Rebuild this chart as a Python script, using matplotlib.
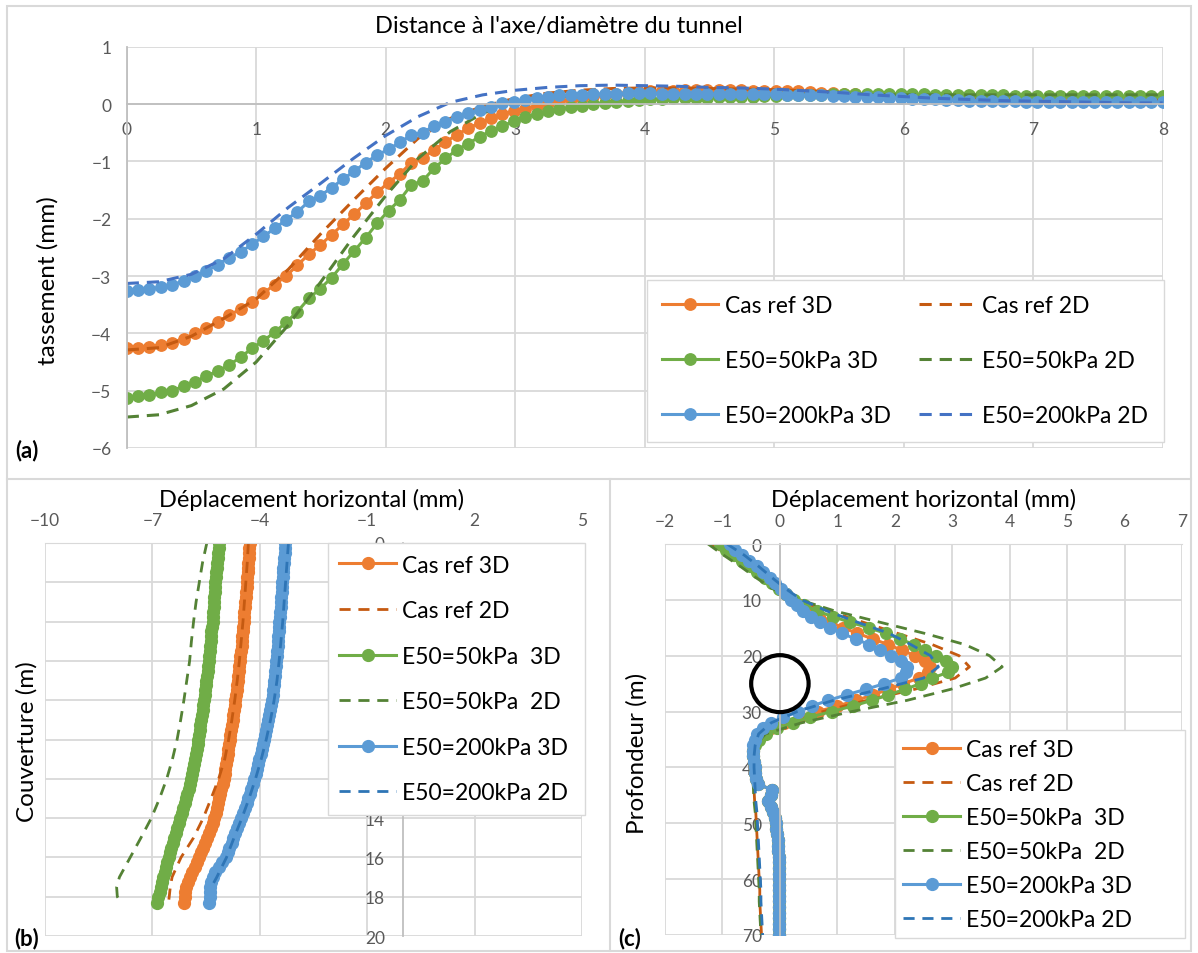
import numpy as np
import matplotlib
matplotlib.use("Agg")
import matplotlib.pyplot as plt
from matplotlib.patches import Ellipse, Rectangle
from matplotlib.lines import Line2D

plt.rcParams['font.family'] = ['Lato', 'DejaVu Sans']

W, H = 1198, 954

# ---------------- (a) tassement en surface ----------------
dist_3d = np.linspace(0, 8, 92)
a_ref_3d = [-4.26, -4.25, -4.23, -4.20, -4.16, -4.09, -4.00, -3.91, -3.80, -3.68,
            -3.58, -3.46, -3.30, -3.15, -3.00, -2.81, -2.62, -2.46, -2.28, -2.10,
            -1.92, -1.73, -1.54, -1.37, -1.22, -1.02, -0.94, -0.80, -0.66, -0.54,
            -0.42, -0.33, -0.25, -0.18, -0.12, -0.08, -0.03, 0.01, 0.05, 0.08,
            0.11, 0.14, 0.16, 0.18, 0.20, 0.21, 0.22, 0.23, 0.23, 0.24,
            0.24, 0.24, 0.24, 0.24, 0.24, 0.23, 0.23, 0.23, 0.22, 0.22,
            0.21, 0.20, 0.19, 0.18, 0.17, 0.16, 0.15, 0.14, 0.13, 0.13,
            0.12, 0.12, 0.11, 0.11, 0.10, 0.10, 0.10, 0.09, 0.09, 0.09,
            0.08, 0.08, 0.08, 0.08, 0.08, 0.08, 0.07, 0.07, 0.07, 0.07,
            0.07, 0.07]
a_e50_3d = [-5.12, -5.10, -5.08, -5.03, -5.00, -4.92, -4.85, -4.74, -4.66, -4.55,
            -4.42, -4.26, -4.13, -3.98, -3.81, -3.62, -3.39, -3.22, -3.03, -2.79,
            -2.56, -2.33, -2.08, -1.86, -1.67, -1.41, -1.34, -1.12, -0.95, -0.80,
            -0.69, -0.57, -0.47, -0.38, -0.30, -0.22, -0.18, -0.13, -0.09, -0.06,
            -0.03, 0.00, 0.02, 0.04, 0.06, 0.07, 0.08, 0.09, 0.10, 0.10,
            0.11, 0.11, 0.12, 0.12, 0.13, 0.13, 0.14, 0.14, 0.15, 0.15,
            0.16, 0.16, 0.17, 0.17, 0.17, 0.18, 0.18, 0.18, 0.18, 0.17,
            0.17, 0.16, 0.16, 0.16, 0.15, 0.15, 0.15, 0.15, 0.14, 0.14,
            0.14, 0.14, 0.14, 0.14, 0.14, 0.14, 0.14, 0.14, 0.14, 0.14,
            0.14, 0.14]
a_e200_3d = [-3.26, -3.24, -3.23, -3.19, -3.15, -3.09, -3.00, -2.91, -2.80, -2.68,
             -2.58, -2.45, -2.31, -2.17, -2.02, -1.88, -1.70, -1.60, -1.46, -1.31,
             -1.17, -1.02, -0.89, -0.79, -0.67, -0.54, -0.50, -0.38, -0.31, -0.22,
             -0.16, -0.10, -0.05, 0.01, 0.04, 0.07, 0.10, 0.12, 0.15, 0.16,
             0.16, 0.17, 0.18, 0.18, 0.19, 0.19, 0.19, 0.18, 0.18, 0.18,
             0.18, 0.18, 0.17, 0.17, 0.17, 0.17, 0.17, 0.17, 0.16, 0.16,
             0.15, 0.15, 0.14, 0.14, 0.13, 0.13, 0.12, 0.11, 0.10, 0.09,
             0.08, 0.08, 0.07, 0.07, 0.06, 0.06, 0.05, 0.05, 0.05, 0.04,
             0.04, 0.04, 0.04, 0.04, 0.04, 0.04, 0.03, 0.03, 0.03, 0.03,
             0.03, 0.03]
dist_2d = np.arange(0, 8.001, 0.25)
a_ref_2d = [-4.29, -4.25, -4.05, -3.74, -3.40, -2.88, -2.26, -1.68, -1.12, -0.60,
            -0.25, -0.04, 0.10, 0.19, 0.24, 0.27, 0.28, 0.28, 0.27, 0.26,
            0.25, 0.23, 0.21, 0.18, 0.15, 0.13, 0.11, 0.10, 0.09, 0.08,
            0.08, 0.07, 0.07]
a_e50_2d = [-5.46, -5.42, -5.26, -4.97, -4.50, -3.85, -3.10, -2.32, -1.60, -0.95,
            -0.48, -0.16, 0.05, 0.12, 0.15, 0.17, 0.18, 0.18, 0.18, 0.17,
            0.17, 0.17, 0.17, 0.16, 0.16, 0.16, 0.16, 0.16, 0.16, 0.16,
            0.16, 0.16, 0.16]
a_e200_2d = [-3.13, -3.10, -2.97, -2.70, -2.27, -1.80, -1.38, -0.95, -0.55, -0.22,
             0.03, 0.16, 0.24, 0.29, 0.32, 0.33, 0.32, 0.31, 0.29, 0.28,
             0.26, 0.23, 0.20, 0.16, 0.13, 0.10, 0.08, 0.06, 0.05, 0.04,
             0.03, 0.02, 0.02]

# ---------------- (b) couverture ----------------
depth_b3 = np.append(np.arange(0, 18.01, 0.25), 18.3)
b_ref_3d = [-4.28, -4.29, -4.30, -4.31,
            -4.32, -4.33, -4.34, -4.35,
            -4.36, -4.37, -4.38, -4.39,
            -4.40, -4.42, -4.43, -4.44,
            -4.45, -4.46, -4.47, -4.49,
            -4.50, -4.51, -4.52, -4.54,
            -4.55, -4.57, -4.58, -4.60,
            -4.61, -4.63, -4.64, -4.66,
            -4.68, -4.70, -4.72, -4.74,
            -4.76, -4.78, -4.80, -4.82,
            -4.84, -4.86, -4.88, -4.90,
            -4.92, -4.94, -4.96, -4.98,
            -5.01, -5.04, -5.07, -5.10,
            -5.13, -5.16, -5.20, -5.23,
            -5.27, -5.32, -5.37, -5.42,
            -5.47, -5.52, -5.58, -5.63,
            -5.69, -5.75, -5.82, -5.88,
            -5.95, -6.00, -6.05, -6.08,
            -6.10, -6.12]
b_e50_3d = [-5.14, -5.15, -5.17, -5.18,
            -5.19, -5.20, -5.22, -5.23,
            -5.24, -5.25, -5.26, -5.27,
            -5.28, -5.29, -5.30, -5.31,
            -5.32, -5.33, -5.35, -5.36,
            -5.37, -5.38, -5.40, -5.41,
            -5.43, -5.44, -5.46, -5.47,
            -5.49, -5.50, -5.52, -5.54,
            -5.56, -5.58, -5.60, -5.62,
            -5.64, -5.66, -5.68, -5.70,
            -5.72, -5.74, -5.76, -5.78,
            -5.81, -5.83, -5.86, -5.88,
            -5.91, -5.94, -5.98, -6.02,
            -6.06, -6.10, -6.14, -6.18,
            -6.23, -6.27, -6.31, -6.35,
            -6.39, -6.43, -6.47, -6.51,
            -6.55, -6.59, -6.63, -6.66,
            -6.70, -6.73, -6.77, -6.80,
            -6.84, -6.87]
b_e200_3d = [-3.29, -3.30, -3.31, -3.32,
             -3.33, -3.34, -3.35, -3.36,
             -3.37, -3.38, -3.39, -3.40,
             -3.41, -3.42, -3.43, -3.44,
             -3.45, -3.46, -3.47, -3.48,
             -3.49, -3.50, -3.52, -3.53,
             -3.54, -3.55, -3.57, -3.58,
             -3.60, -3.61, -3.63, -3.64,
             -3.66, -3.68, -3.71, -3.73,
             -3.76, -3.79, -3.82, -3.85,
             -3.88, -3.91, -3.94, -3.97,
             -4.01, -4.04, -4.08, -4.11,
             -4.15, -4.19, -4.24, -4.28,
             -4.33, -4.37, -4.42, -4.47,
             -4.52, -4.57, -4.63, -4.68,
             -4.74, -4.79, -4.85, -4.90,
             -4.95, -5.05, -5.15, -5.24,
             -5.32, -5.37, -5.40, -5.40,
             -5.40, -5.42]
depth_b2 = [0, 1, 2, 3, 4, 5, 6, 7, 8, 9, 10, 11, 12, 13, 14, 15, 16, 17, 17.5, 18, 18.3]
b_ref_2d = [-4.32, -4.35, -4.39, -4.43, -4.47, -4.52, -4.57, -4.63, -4.70, -4.78,
            -4.87, -4.98, -5.15, -5.36, -5.58, -5.85, -6.20, -6.45, -6.50, -6.53, -6.55]
b_e50_2d = [-5.48, -5.60, -5.69, -5.78, -5.85, -5.91, -5.96, -6.04, -6.12, -6.21,
            -6.31, -6.44, -6.60, -6.80, -7.03, -7.32, -7.62, -7.92, -8.00, -7.98, -7.87]
b_e200_2d = [-3.20, -3.24, -3.28, -3.32, -3.36, -3.41, -3.46, -3.52, -3.60, -3.70,
             -3.82, -3.96, -4.12, -4.30, -4.50, -4.72, -4.93, -5.20, -5.35, np.nan, np.nan]

# ---------------- (c) profondeur ----------------
depth_c3 = np.arange(0, 71)
c_ref_head = [-1.00, -0.88, -0.75, -0.61, -0.47, -0.35, -0.23, -0.11, 0.00, 0.11,
              0.22, 0.35, 0.50, 0.68, 0.88, 1.10, 1.35, 1.62, 1.88, 2.12,
              2.35, 2.52, 2.62, 2.58, 2.42, 2.15, 1.90, 1.62, 1.33, 1.00,
              0.66, 0.35, 0.08, -0.15, -0.30, -0.40, -0.45]
c_e50_head = [-1.05, -0.93, -0.80, -0.66, -0.52, -0.39, -0.26, -0.14, -0.02, 0.10,
              0.24, 0.42, 0.65, 0.92, 1.22, 1.55, 1.84, 2.09, 2.33, 2.53,
              2.72, 2.90, 3.00, 2.92, 2.65, 2.45, 2.18, 1.89, 1.60, 1.27,
              0.90, 0.52, 0.22, -0.05, -0.24, -0.36, -0.43]
c_e200_head = [-0.87, -0.78, -0.66, -0.53, -0.40, -0.29, -0.18, -0.08, 0.02, 0.10,
               0.19, 0.29, 0.41, 0.54, 0.70, 0.88, 1.08, 1.32, 1.55, 1.75,
               1.93, 2.10, 2.22, 2.20, 2.10, 1.82, 1.50, 1.16, 0.84, 0.56,
               0.32, 0.06, -0.15, -0.30, -0.40, -0.44, -0.46]
# below 37 m the three 3D curves coincide
c_tail_3d = [-0.46, -0.46, -0.45, -0.44, -0.43, -0.42, -0.38, -0.14, -0.16, -0.20,
             -0.16, -0.12, -0.09, -0.07, -0.06, -0.05, -0.04, -0.03, -0.03, -0.02,
             -0.02, -0.02, -0.02, -0.02, -0.02, -0.02, -0.01, -0.01, -0.01, -0.01,
             -0.01, -0.01, -0.01, -0.01]
depth_c2 = np.arange(0, 71, 2)
c_ref_2d = [-1.20, -0.92, -0.63, -0.35, -0.08, 0.30, 0.85, 1.45, 2.05, 2.65,
            3.12, 3.30, 3.05, 2.35, 1.51, 0.75, 0.15, -0.25, -0.41, -0.45,
            -0.46, -0.46, -0.45, -0.44, -0.42, -0.41, -0.40, -0.39, -0.38, -0.37,
            -0.36, -0.35, -0.35, -0.34, -0.33, -0.32]
c_e50_2d = [-1.25, -0.98, -0.69, -0.42, -0.13, 0.35, 0.96, 1.74, 2.52, 3.22,
            3.65, 3.87, 3.58, 2.98, 2.21, 1.25, 0.38, -0.25, -0.43, -0.46,
            -0.47, -0.47, -0.46, -0.45, -0.43, -0.42, -0.41, -0.40, -0.39, -0.38,
            -0.37, -0.36, -0.36, -0.35, -0.34, -0.33]
c_e200_2d = [-0.92, -0.62, -0.37, -0.14, 0.10, 0.38, 0.82, 1.35, 1.90, 2.28,
             2.62, 2.76, 2.50, 1.75, 0.93, 0.30, -0.15, -0.37, -0.43, -0.45,
             -0.45, -0.44, -0.43, -0.42, -0.40, -0.39, -0.38, -0.37, -0.36, -0.35,
             -0.34, -0.33, -0.33, -0.32, -0.31, -0.30]

labels_a = ["Cas ref 3D", "Cas ref 2D", "E50=50kPa 3D", "E50=50kPa 2D",
            "E50=200kPa 3D", "E50=200kPa 2D"]
labels_bc = ["Cas ref 3D", "Cas ref 2D", "E50=50kPa  3D", "E50=50kPa  2D",
             "E50=200kPa 3D", "E50=200kPa 2D"]

ORANGE, ORANGE_D = "#ED7D31", "#C55A11"
GREEN, GREEN_D = "#70AD47", "#548235"
BLUE = "#5B9BD5"
GRID = "#D9D9D9"
AXIS = "#BFBFBF"
TICK = "#595959"
LEG_FS = 16.5


def rect(l, t, r, b):
    return [l / W, 1 - b / H, (r - l) / W, (b - t) / H]


def style(ax):
    ax.grid(True, color=GRID, lw=1.3)
    ax.set_axisbelow(True)
    ax.tick_params(length=0, labelsize=12.5, labelcolor=TICK)
    for s in ax.spines.values():
        s.set_visible(False)


def legend(ax, handles, labels, box, ncol, spacing, pad):
    l, t, r, b = box
    return ax.legend(handles, labels, loc="upper left", ncol=ncol, mode="expand",
                     bbox_to_anchor=(l / W, 1 - t / H, (r - l) / W, 0.001),
                     bbox_transform=fig.transFigure, fontsize=LEG_FS, frameon=True,
                     fancybox=False, edgecolor=GRID, framealpha=1, borderaxespad=0,
                     handlelength=2.45, handletextpad=0.3, labelspacing=spacing,
                     borderpad=pad, columnspacing=1.0)


fig = plt.figure(figsize=(W / 100, H / 100), dpi=100)

# frames
frame = dict(transform=None, fill=False, ec=GRID, lw=1.5)
fig.patches.append(Rectangle((7, H - 952), 1184, 945, **frame))
fig.lines.append(Line2D([7 / W, 1191 / W], [1 - 480 / H] * 2, color=GRID, lw=1.5,
                        transform=fig.transFigure))
fig.lines.append(Line2D([610 / W] * 2, [1 - 480 / H, 1 - 952 / H], color=GRID, lw=1.5,
                        transform=fig.transFigure))

# ---------- (a) ----------
ax_a = fig.add_axes(rect(126.7, 47.7, 1162.7, 449))
style(ax_a)
mk = dict(marker="o", ms=8.2, lw=2.2)
dash = dict(lw=2.2, dashes=(4, 2.6))
h1, = ax_a.plot(dist_3d, a_ref_3d, color=ORANGE, mec=ORANGE, **mk)
h2, = ax_a.plot(dist_2d, a_ref_2d, color=ORANGE_D, **dash)
h3, = ax_a.plot(dist_3d, a_e50_3d, color=GREEN, mec=GREEN, **mk)
h4, = ax_a.plot(dist_2d, a_e50_2d, color=GREEN_D, **dash)
h5, = ax_a.plot(dist_3d, a_e200_3d, color=BLUE, mec=BLUE, **mk)
h6, = ax_a.plot(dist_2d, a_e200_2d, color="#4472C4", **dash)
ax_a.set_xlim(0, 8)
ax_a.set_ylim(-6, 1)
ax_a.set_xticks(range(0, 9))
ax_a.set_yticks(range(-6, 2))
for side in ("left", "bottom"):
    ax_a.spines[side].set_visible(True)
    ax_a.spines[side].set_color(AXIS)
    ax_a.spines[side].set_linewidth(1.3)
ax_a.spines["bottom"].set_position(("data", 0))
ax_a.tick_params(axis="x", pad=12)
ax_a.tick_params(axis="y", pad=11)
hs = [h1, h2, h3, h4, h5, h6]
order = [0, 2, 4, 1, 3, 5]
legend(ax_a, [hs[i] for i in order], [labels_a[i] for i in order],
       (646.5, 281.7, 1163.8, 445), 2, 1.48, 0.68)

# ---------- (b) ----------
ax_b = fig.add_axes(rect(45, 544, 582, 937))
style(ax_b)
mk_b = dict(marker="o", ms=8.5, lw=2.2)
dash_b = dict(lw=2.0, dashes=(4, 2.8))
g1, = ax_b.plot(b_ref_3d, depth_b3, color=ORANGE, mec=ORANGE, **mk_b)
g2, = ax_b.plot(b_ref_2d, depth_b2, color=ORANGE_D, **dash_b)
g3, = ax_b.plot(b_e50_3d, depth_b3, color=GREEN, mec=GREEN, **mk_b)
g4, = ax_b.plot(b_e50_2d, depth_b2, color=GREEN_D, **dash_b)
g5, = ax_b.plot(b_e200_3d, depth_b3, color=BLUE, mec=BLUE, **mk_b)
g6, = ax_b.plot(b_e200_2d, depth_b2, color="#2E75B6", **dash_b)
ax_b.set_xlim(-10, 5)
ax_b.set_ylim(20, 0)
ax_b.set_xticks([-10, -7, -4, -1, 2, 5])
ax_b.set_yticks(range(0, 21, 2))

# ---------- (c) ----------
ax_c = fig.add_axes(rect(665, 545, 1182, 936))
style(ax_c)
k1, = ax_c.plot(c_ref_head + c_tail_3d, depth_c3, color=ORANGE, mec=ORANGE, **mk_b)
k2, = ax_c.plot(c_ref_2d, depth_c2, color=ORANGE_D, **dash_b)
k3, = ax_c.plot(c_e50_head + c_tail_3d, depth_c3, color=GREEN, mec=GREEN, **mk_b)
k4, = ax_c.plot(c_e50_2d, depth_c2, color=GREEN_D, **dash_b)
k5, = ax_c.plot(c_e200_head + c_tail_3d, depth_c3, color=BLUE, mec=BLUE, **mk_b)
k6, = ax_c.plot(c_e200_2d, depth_c2, color="#2E75B6", **dash_b)
ax_c.add_patch(Ellipse((0, 25), 1.0, 10.2, fill=False, ec="black", lw=3, zorder=4))
ax_c.set_xlim(-2, 7)
ax_c.set_ylim(70, 0)
ax_c.set_xticks(range(-2, 8))
ax_c.set_yticks(range(0, 71, 10))

for ax in (ax_b, ax_c):
    ax.xaxis.tick_top()
    ax.spines["left"].set_visible(True)
    ax.spines["left"].set_position(("data", 0))
    ax.spines["left"].set_color(AXIS)
    ax.spines["left"].set_linewidth(1.3)
    ax.spines["top"].set_visible(True)
    ax.spines["top"].set_color(GRID)
    ax.tick_params(axis="x", pad=11)
    ax.tick_params(axis="y", pad=13)

legend(ax_b, [g1, g2, g3, g4, g5, g6], labels_bc, (328, 545, 585, 817), 1, 1.07, 0.5)
legend(ax_c, [k1, k2, k3, k4, k5, k6], labels_bc, (895, 732, 1185, 938), 1, 0.57, 0.37)

# titles and labels
txt = dict(ha="center", va="center", fontsize=17)
fig.text(559 / W, 1 - 27 / H, "Distance à l'axe/diamètre du tunnel", **txt)
fig.text(312 / W, 1 - 500 / H, "Déplacement horizontal (mm)", **txt)
fig.text(924 / W, 1 - 500 / H, "Déplacement horizontal (mm)", **txt)
ylab = dict(ha="center", va="center", fontsize=17.5, rotation=90)
fig.text(48 / W, 1 - 281 / H, "tassement (mm)", **ylab)
fig.text(27 / W, 1 - 742 / H, "Couverture (m)", **ylab)
fig.text(637 / W, 1 - 753 / H, "Profondeur (m)", **ylab)
lab = dict(ha="center", va="center", fontsize=16, fontweight="bold")
fig.text(27 / W, 1 - 451 / H, "(a)", **lab)
fig.text(27 / W, 1 - 939 / H, "(b)", **lab)
fig.text(630 / W, 1 - 939 / H, "(c)", **lab)

fig.savefig("out.png", dpi=100)
